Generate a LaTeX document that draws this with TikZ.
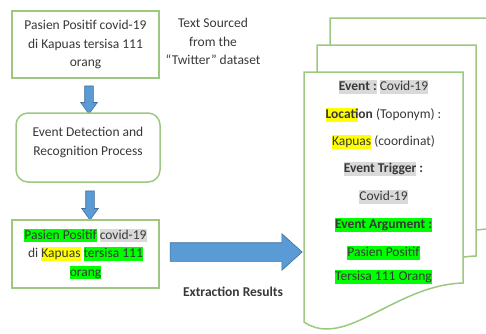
\documentclass[tikz,border=0pt]{standalone}
\usepackage{fontspec}
\setmainfont{Carlito}
\usetikzlibrary{shapes.arrows}
\definecolor{bxgreen}{HTML}{9CC97F}
\definecolor{arrblue}{HTML}{5B9BD5}
\definecolor{arredge}{HTML}{41719C}
\definecolor{txtgray}{HTML}{383838}
\definecolor{hlgreen}{HTML}{00FF00}
\definecolor{hlyellow}{HTML}{FFFF00}
\definecolor{hlgray}{HTML}{D9D9D9}
\newcommand{\hlstrut}{\rule[-3.2pt]{0pt}{13.4pt}}
\newcommand{\hlt}[2]{{\setlength{\fboxsep}{0pt}\colorbox{#1}{\hlstrut #2}}}
\tikzset{
  box/.style={draw=bxgreen, line width=1.5pt, fill=white, minimum width=147pt,
    minimum height=67pt, align=center, inner sep=0pt},
  blockarrow/.style={single arrow, draw=arredge, fill=arrblue, line width=0.6pt,
    inner sep=4pt, shape border rotate=270, single arrow head extend=4pt,
    single arrow tip angle=72},
  bigarrow/.style={single arrow, draw=arredge, fill=arrblue, line width=0.6pt,
    inner sep=9pt, single arrow head extend=9pt, single arrow tip angle=84,
    minimum height=132pt},
  page/.style={draw=bxgreen, line width=1.5pt, fill=white},
  pagetxt/.style={inner sep=0pt, text height=10.2pt, text depth=3.2pt},
}
\newcommand{\docpage}[1]{\draw[page, shift={#1}] (304,72) -- (463,72) -- (463,283)
  .. controls (395,285) and (345,350) .. (304,322) -- cycle;}
\begin{document}
\begin{tikzpicture}[x=1pt, y=-1pt, font=\fontsize{13.5}{18.5}\selectfont, text=txtgray]
\useasboundingbox (0,0) rectangle (486,333);
\clip (0,0) rectangle (486,333);
% left column
\node[box] (src) at (85.5,44.5) {Pasien Positif covid-19\\di Kapuas tersisa 111\\orang};
\node[align=center] (note) at (213,41.5) {Text Sourced\\from the\\“Twitter” dataset};
\node[blockarrow, minimum height=28pt] (a1) at (89,97) {};
\node[box, rounded corners=12pt, minimum width=144pt, minimum height=69pt] (proc) at (88,147.5) {};
\node[align=center] (proctxt) at (88,142.5) {Event Detection and\\Recognition Process};
\node[blockarrow, minimum height=29pt] (a2) at (90,202.5) {};
\node[box, minimum height=68pt] (res) at (85.5,254)
  {\hlt{hlgreen}{Pasien Positif} \hlt{hlgray}{covid-19}\\
   di \hlt{hlyellow}{Kapuas} \hlt{hlgreen}{tersisa 111}\\
   \hlt{hlgreen}{orang}};
% big arrow
\node[bigarrow] (a3) at (231,252) {};
\node[font=\fontsize{13.5}{18.5}\selectfont\bfseries] (extr) at (233,292) {Extraction Results};
% document stack
\docpage{(26,-54)}
\docpage{(13,-27)}
\docpage{(0,0)}
\node[pagetxt] (l1) at (383.5,87) {\textbf{\hlt{hlgray}{Event :}} \hlt{hlgray}{Covid-19}};
\node[pagetxt] (l2) at (383.5,115) {\textbf{\hlt{hlyellow}{Locati}on} (Toponym) :};
\node[pagetxt] (l3) at (383.5,142) {\hlt{hlyellow}{Kapuas} (coordinat)};
\node[pagetxt] (l4) at (383.5,169) {\textbf{\hlt{hlgray}{Event Trigger} :}};
\node[pagetxt] (l5) at (383.5,197) {\hlt{hlgray}{Covid-19}};
\node[pagetxt] (l6) at (383.5,225) {\textbf{\hlt{hlgreen}{Event Argument :}}};
\node[pagetxt] (l7) at (383.5,253) {\hlt{hlgreen}{Pasien Positif}};
\node[pagetxt] (l8) at (383.5,277) {\hlt{hlgreen}{Tersisa 111 Orang}};
\end{tikzpicture}
\end{document}
